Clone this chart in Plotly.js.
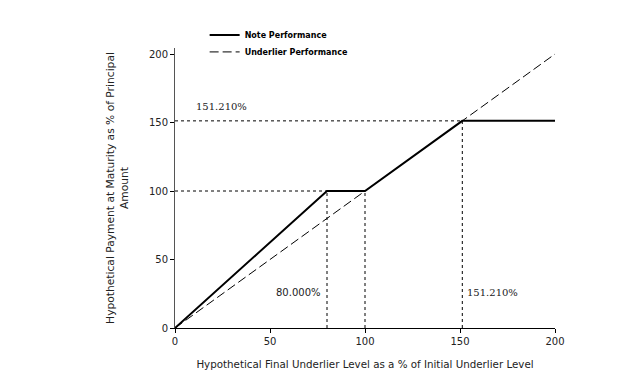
<!DOCTYPE html>
<html><head><meta charset="utf-8">
<script src="https://cdn.plot.ly/plotly-3.0.1.min.js"></script>
<style>body{margin:0;background:#fff}#c{width:624px;height:378px}</style>
</head><body><div id="c"></div>
<script>
const noteX = [0, 80, 100, 151.21, 200];
const noteY = [0, 100, 100, 151.21, 151.21];
const underX = [0, 200];
const underY = [0, 200];
const capLevel = 151.21;
const bufferLevel = 80;
const parLevel = 100;
const labelCap = "151.210%";
const labelBuffer = "80.000%";

const dotLine = {color:'#000', width:1, dash:'dot'};
const guides = [
  {x:[0, capLevel], y:[capLevel, capLevel]},
  {x:[capLevel, capLevel], y:[0, capLevel]},
  {x:[0, bufferLevel], y:[parLevel, parLevel]},
  {x:[bufferLevel, bufferLevel], y:[0, parLevel]},
  {x:[parLevel, parLevel], y:[0, parLevel]}
].map(g => ({x:g.x, y:g.y, mode:'lines', line:dotLine, showlegend:false, hoverinfo:'skip'}));

const data = guides.concat([
  {x:underX, y:underY, mode:'lines', name:'Underlier Performance', legend:'legend2', line:{color:'#000', width:1, dash:'9px,4px'}},
  {x:noteX, y:noteY, mode:'lines', name:'Note Performance', legend:'legend', line:{color:'#000', width:2}}
]);

const legFont = {family:'DejaVu Sans', size:8, color:'#000', weight:'bold'};
const layout = {
  width:624, height:378,
  margin:{l:175, r:69, t:48, b:50},
  paper_bgcolor:'#fff', plot_bgcolor:'#fff',
  font:{family:'DejaVu Sans', size:10, color:'#222'},
  showlegend:true,
  legend:{x:0.078, y:1.046, xanchor:'left', yanchor:'middle', font:legFont, bgcolor:'rgba(0,0,0,0)'},
  legend2:{x:0.078, y:0.986, xanchor:'left', yanchor:'middle', font:legFont, bgcolor:'rgba(0,0,0,0)'},
  xaxis:{range:[0,200], tickvals:[0,50,100,150,200], ticks:'outside', ticklen:4, tickcolor:'#000',
         showgrid:false, zeroline:false, showline:true, linecolor:'#000', linewidth:1,
         tickfont:{family:'DejaVu Sans', size:10, color:'#222'},
         title:{text:'Hypothetical Final Underlier Level as a % of Initial Underlier Level', font:{family:'DejaVu Sans', size:10.3, color:'#222'}, standoff:14}},
  yaxis:{range:[0,204.4], tickvals:[0,50,100,150,200], ticks:'outside', ticklen:4, tickcolor:'#000',
         showgrid:false, zeroline:false, showline:true, linecolor:'#555', linewidth:1,
         tickfont:{family:'DejaVu Sans', size:10, color:'#222'},
         title:{text:'Hypothetical Payment at Maturity as % of Principal<br>Amount', font:{family:'DejaVu Sans', size:10.7, color:'#222'}, standoff:18}},
  annotations:[
    {x:24.7, y:162, xref:'x', yref:'y', text:labelCap, showarrow:false, font:{family:'DejaVu Serif', size:10, color:'#222'}},
    {x:65, y:26, xref:'x', yref:'y', text:labelBuffer, showarrow:false, font:{family:'DejaVu Sans', size:10, color:'#222'}},
    {x:167, y:26, xref:'x', yref:'y', text:labelCap, showarrow:false, font:{family:'DejaVu Serif', size:10, color:'#222'}}
  ]
};
Plotly.newPlot('c', data, layout, {displayModeBar:false, staticPlot:true});
</script></body></html>
